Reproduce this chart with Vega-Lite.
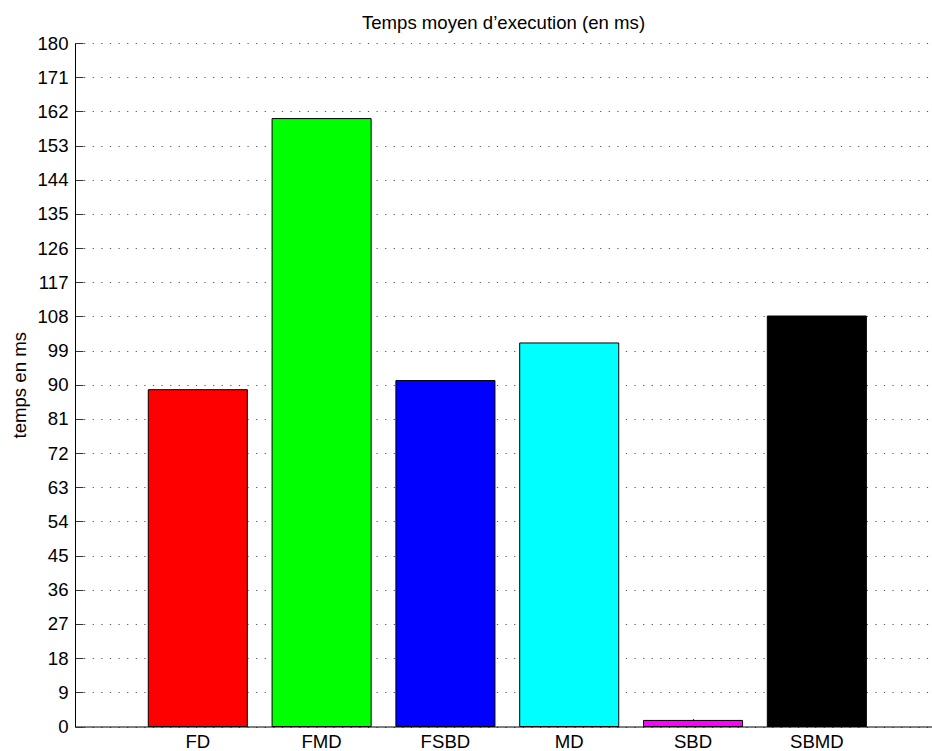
{
  "$schema": "https://vega.github.io/schema/vega-lite/v6.json",
  "autosize": "none",
  "padding": {"left": 75, "top": 43, "right": 0, "bottom": 24},
  "width": 857,
  "height": 683.5,
  "background": "white",
  "config": {
    "view": {"stroke": null},
    "font": "Liberation Sans"
  },
  "title": {
    "text": "Temps moyen d’execution (en ms)",
    "font": "Liberation Sans",
    "fontSize": 18.6,
    "fontWeight": "normal",
    "color": "#000000",
    "anchor": "middle",
    "frame": "group",
    "baseline": "alphabetic",
    "offset": 13,
    "dy": 27
  },
  "data": {
    "values": [
      {"method": "FD", "time": 88.7},
      {"method": "FMD", "time": 160.1},
      {"method": "FSBD", "time": 91.1},
      {"method": "MD", "time": 101.0},
      {"method": "SBD", "time": 1.6},
      {"method": "SBMD", "time": 108.1}
    ]
  },
  "mark": {"type": "bar", "stroke": "#000000", "strokeWidth": 1},
  "encoding": {
    "x": {
      "field": "method",
      "type": "nominal",
      "sort": null,
      "scale": {"paddingInner": 0.2, "paddingOuter": 0.561, "align": 0.5275},
      "axis": {
        "title": null,
        "labelAngle": 0,
        "labelFont": "Liberation Sans",
        "labelFontSize": 18.6,
        "labelColor": "#000000",
        "labelPadding": 14,
        "domainColor": "#000000",
        "domainWidth": 1,
        "tickColor": "#333333",
        "tickSize": -8,
        "tickWidth": 1,
        "bandPosition": 0.5,
        "grid": false
      }
    },
    "y": {
      "field": "time",
      "type": "quantitative",
      "scale": {"domain": [0, 180], "nice": false},
      "axis": {
        "title": "temps en ms",
        "titleFont": "Liberation Sans",
        "titleFontSize": 18.6,
        "titleFontWeight": "normal",
        "titleColor": "#000000",
        "titleAngle": -90,
        "titleAlign": "center",
        "titleBaseline": "middle",
        "titleX": -56,
        "titleY": 341.75,
        "values": [0, 9, 18, 27, 36, 45, 54, 63, 72, 81, 90, 99, 108, 117, 126, 135, 144, 153, 162, 171, 180],
        "labelFont": "Liberation Sans",
        "labelFontSize": 18.6,
        "labelColor": "#000000",
        "labelPadding": 15,
        "domainColor": "#000000",
        "domainWidth": 1,
        "tickColor": "#333333",
        "tickSize": -8,
        "tickWidth": 1,
        "grid": true,
        "gridColor": "#555555",
        "gridDash": [1.2, 7.4],
        "gridWidth": 1
      }
    },
    "color": {
      "field": "method",
      "type": "nominal",
      "scale": {
        "domain": ["FD", "FMD", "FSBD", "MD", "SBD", "SBMD"],
        "range": ["#FF0000", "#00FF00", "#0000FF", "#00FFFF", "#FF00FF", "#000000"]
      },
      "legend": null
    }
  }
}
